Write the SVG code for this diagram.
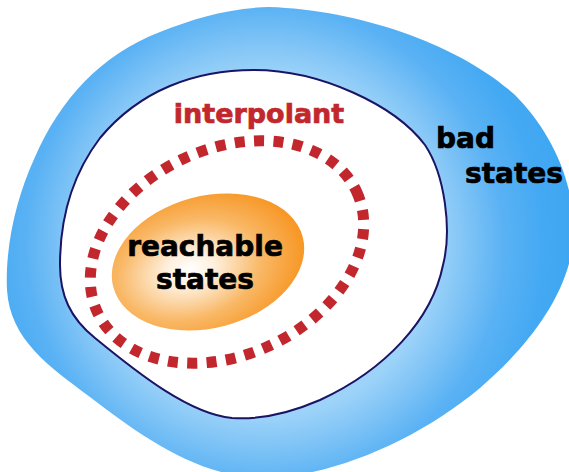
<svg xmlns="http://www.w3.org/2000/svg" width="569" height="472" viewBox="0 0 569 472">
  <defs>
    <radialGradient id="blueGrad" gradientUnits="userSpaceOnUse" cx="265" cy="245" r="310">
      <stop offset="0.55" stop-color="#9dd3f9"/>
      <stop offset="0.65" stop-color="#80c4f6"/>
      <stop offset="0.77" stop-color="#5ab2f4"/>
      <stop offset="0.9" stop-color="#44a9f3"/>
      <stop offset="1" stop-color="#3ea6f2"/>
    </radialGradient>
    <radialGradient id="orangeGrad" cx="0.4" cy="0.52" r="0.62">
      <stop offset="0" stop-color="#ffffff"/>
      <stop offset="0.2" stop-color="#fef0de"/>
      <stop offset="0.6" stop-color="#f9b866"/>
      <stop offset="1" stop-color="#f7931e"/>
    </radialGradient>
    <style>
      .lbl { font-family: "DejaVu Sans", Verdana, sans-serif; font-weight: bold; stroke-width: 0.7px; }
      .black { fill: #000000; stroke: #000000; font-size: 28px; }
      .red { fill: #c1272d; stroke: #c1272d; font-size: 27px; }
    </style>
  </defs>

  <g id="bad-states">
    <path d="M 269 7 C 360 10, 460 45, 515 95 C 550 130, 574 180, 574 232 C 572 290, 530 345, 480 388 C 420 438, 340 474, 270 478 C 200 480, 140 435, 90 397 C 50 367, 10 340, 7 290 C 5 250, 15 200, 35 157 C 60 100, 100 55, 160 32 C 195 18, 230 8, 269 7 Z" fill="url(#blueGrad)"/>
    <text class="lbl black" x="436" y="148">bad</text>
    <text class="lbl black" x="465" y="183">states</text>
  </g>

  <g id="safe-region">
    <path d="M 254 70 C 320 70, 395 105, 425 145 C 445 175, 452 230, 443 265 C 432 320, 385 370, 320 400 C 290 413, 260 420, 232 418 C 190 414, 140 375, 95 338 C 70 318, 60 295, 60 265 C 60 220, 72 175, 100 138 C 140 90, 195 70, 254 70 Z" fill="#ffffff" stroke="#1b1464" stroke-width="2"/>
  </g>

  <g id="interpolant">
    <ellipse cx="227" cy="252" rx="143" ry="103" transform="rotate(-25 227 252)" fill="none" stroke="#c1272d" stroke-width="11" stroke-dasharray="10 9.3"/>
    <text class="lbl red" x="259" y="123" text-anchor="middle">interpolant</text>
  </g>

  <g id="reachable-states">
    <ellipse cx="208" cy="262" rx="98" ry="66" transform="rotate(-15 208 262)" fill="url(#orangeGrad)"/>
    <text class="lbl black" x="205" y="256" text-anchor="middle">reachable</text>
    <text class="lbl black" x="205" y="289" text-anchor="middle">states</text>
  </g>

  <g id="connectors"/>
</svg>
